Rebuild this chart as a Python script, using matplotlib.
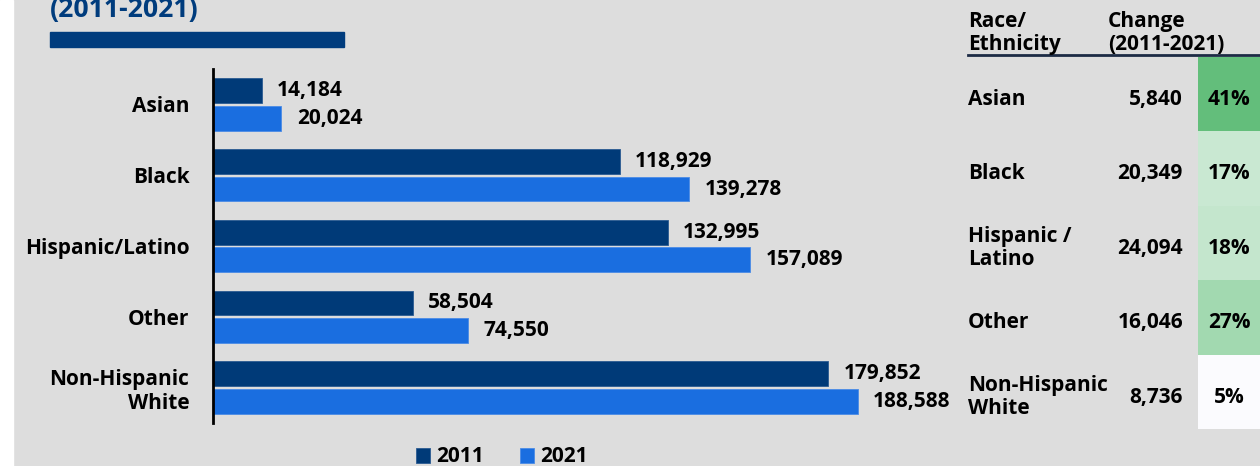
import matplotlib
matplotlib.use("Agg")
import matplotlib.pyplot as plt
from matplotlib import font_manager as fm
from matplotlib.patches import Rectangle

W, H = 1260, 466

categories = ["Asian", "Black", "Hispanic/Latino", "Other", "Non-Hispanic\nWhite"]
table_names = ["Asian", "Black", "Hispanic /\nLatino", "Other", "Non-Hispanic\nWhite"]
values_2011 = [14184, 118929, 132995, 58504, 179852]
values_2021 = [20024, 139278, 157089, 74550, 188588]
cell_colors = ["#63BE7B", "#C9E8D2", "#C4E6CD", "#A2D9B0", "#FBFBFE"]

C2011 = "#003A78"
C2021 = "#1A6EE0"
BG = "#DDDDDD"
NAVY = "#003C7D"
FS = 15


def bold_font():
    # pick a real bold face file, Noto Sans first
    for name in ["Noto Sans", "Open Sans"]:
        for f in fm.fontManager.ttflist:
            if f.name == name and f.style == "normal" and f.weight == 700 \
                    and "[" not in f.fname:
                return f.fname
    return None


fpath = bold_font()
if fpath:
    fm.fontManager.addfont(fpath)
    fam = fm.FontProperties(fname=fpath).get_name()
else:
    fam = "DejaVu Sans"
plt.rcParams["font.family"] = [fam, "DejaVu Sans"]
plt.rcParams["font.weight"] = "bold"


def fx(px):
    return px / W


def fy(py):
    # py measured from top
    return 1 - py / H


def bold(size):
    if fpath:
        return fm.FontProperties(fname=fpath, size=size)
    return fm.FontProperties(family="DejaVu Sans", weight="bold", size=size)


fig = plt.figure(figsize=(W / 100, H / 100), dpi=100, facecolor=BG)
# white strip at the left edge
fig.patches.append(Rectangle((0, 0), fx(13), 1, transform=fig.transFigure,
                             color="white", zorder=0))

# title remnant + bar
fig.text(fx(50), fy(17), "(2011-2021)", color=NAVY, fontproperties=bold(19.2),
         va="baseline", ha="left")
fig.patches.append(Rectangle((fx(50), fy(47)), fx(294), fy(32) - fy(47),
                             transform=fig.transFigure, color=NAVY))

# bar chart
ax = fig.add_axes([fx(213), fy(423), fx(684), (423 - 69) / H])
ax.set_facecolor(BG)
ys = range(len(categories))
off, h = 0.195, 0.35
b1 = ax.barh([y - off for y in ys], values_2011, height=h, color=C2011,
             edgecolor="#2A5A92", linewidth=0.6, label="2011")
b2 = ax.barh([y + off for y in ys], values_2021, height=h, color=C2021,
             edgecolor="#4A8BE6", linewidth=0.6, label="2021")
ax.set_xlim(0, 200000)
ax.set_ylim(4.5, -0.5)
for bars, vals in [(b1, values_2011), (b2, values_2021)]:
    for bar, v in zip(bars, vals):
        ax.annotate(f"{v:,}", (v, bar.get_y() + bar.get_height() / 2),
                    xytext=(11, 0), textcoords="offset points",
                    ha="left", va="center", fontproperties=bold(FS))
ax.set_yticks(list(ys))
ax.set_yticklabels(categories, fontproperties=bold(FS),
                   multialignment="right", linespacing=1.2)
ax.tick_params(axis="y", length=0, pad=17)
ax.set_xticks([])
for s in ["top", "right", "bottom"]:
    ax.spines[s].set_visible(False)
ax.spines["left"].set_linewidth(2)

fig.legend(handles=[b1, b2], loc="center", bbox_to_anchor=(fx(502), fy(457)),
           ncol=2, frameon=False, handlelength=0.7,
           handleheight=0.7, handletextpad=0.3, columnspacing=1.7,
           prop=bold(FS))

# change table
tx = fig.add_axes([fx(968), fy(429), fx(292), (429 - 57) / H])
tx.set_facecolor(BG)
tx.set_xlim(0, 292)
tx.set_ylim(4.5, -0.5)
tx.axis("off")
tx.barh(list(ys), [62] * len(ys), left=230, height=1, color=cell_colors)
for i, (name, a, b) in enumerate(zip(table_names, values_2011, values_2021)):
    yy = i + 0.07
    tx.text(0, yy, name, ha="left", va="center", fontproperties=bold(FS),
            linespacing=1.15)
    tx.text(215, yy, f"{b - a:,}", ha="right", va="center",
            fontproperties=bold(FS))
    tx.text(261, yy, f"{round((b - a) / a * 100)}%", ha="center",
            va="center", fontproperties=bold(FS))

fig.text(fx(968), fy(50), "Race/\nEthnicity", ha="left", va="baseline",
         fontproperties=bold(FS), linespacing=1.15)
fig.text(fx(1108), fy(50), "Change\n(2011-2021)", ha="left", va="baseline",
         fontproperties=bold(FS), linespacing=1.15)
fig.lines.append(plt.Line2D([fx(968), 1], [fy(55), fy(55)],
                            transform=fig.transFigure, color="#1C2B45",
                            linewidth=2))

fig.savefig("out.png", dpi=100, facecolor=BG)
